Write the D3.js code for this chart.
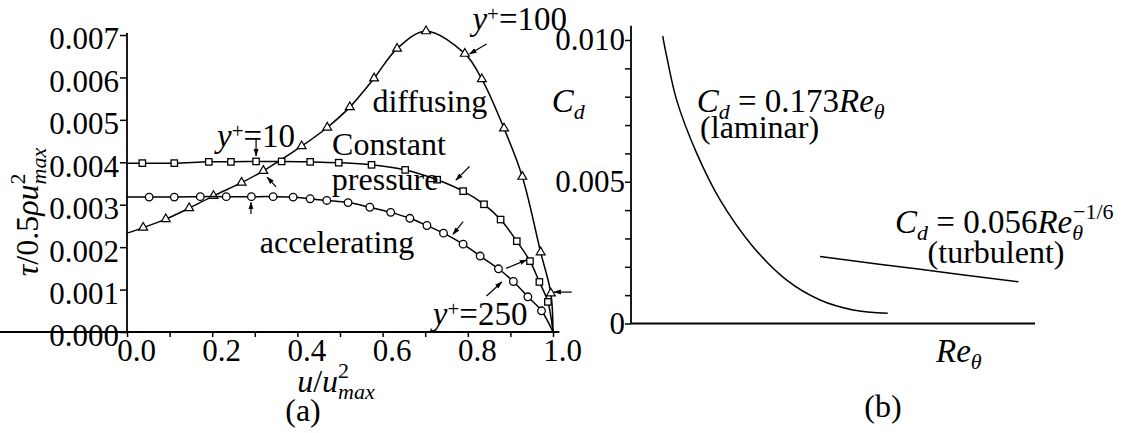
<!DOCTYPE html>
<html>
<head>
<meta charset="utf-8">
<script src="https://cdn.jsdelivr.net/npm/d3@7"></script>
</head>
<body style="margin:0;background:#fff">
<div id="vis-holder"></div>
<script>
// Panel (a): wall shear stress vs u/u_max -----------------------------
// first and last entries are the line ends (no marker)
const constU   = [0, 0.036, 0.111, 0.192, 0.244, 0.303, 0.363, 0.430, 0.497, 0.574, 0.653, 0.728, 0.789, 0.838, 0.877, 0.915, 0.946, 0.968, 0.988, 1.0];
const constTau = [0.00398, 0.00398, 0.00398, 0.00401, 0.00401, 0.00402, 0.00402, 0.00401, 0.00399, 0.00394, 0.00382, 0.00359, 0.00332, 0.00301, 0.00265, 0.00214, 0.00167, 0.00118, 0.00071, 0];

const accU   = [0, 0.052, 0.111, 0.172, 0.233, 0.292, 0.343, 0.390, 0.430, 0.469, 0.519, 0.570, 0.619, 0.664, 0.704, 0.743, 0.789, 0.829, 0.872, 0.907, 0.941, 0.973, 1.0];
const accTau = [0.00318, 0.00318, 0.00318, 0.00319, 0.00319, 0.00319, 0.00319, 0.00318, 0.00314, 0.00310, 0.00305, 0.00294, 0.00282, 0.00268, 0.00251, 0.00233, 0.00207, 0.00179, 0.00149, 0.00119, 0.00083, 0.00050, 0];

const diffU   = [0, 0.038, 0.091, 0.146, 0.203, 0.269, 0.320, 0.410, 0.470, 0.523, 0.580, 0.634, 0.702, 0.793, 0.833, 0.885, 0.928, 0.971, 0.995, 1.0];
const diffTau = [0.00233, 0.00246, 0.00266, 0.00292, 0.00321, 0.00352, 0.00380, 0.00438, 0.00482, 0.00530, 0.00598, 0.00668, 0.00709, 0.00656, 0.00596, 0.00480, 0.00366, 0.00188, 0.00091, 0];

const yTicksA = [0, 0.001, 0.002, 0.003, 0.004, 0.005, 0.006, 0.007];
const xTicksA = [0, 0.1, 0.2, 0.3, 0.4, 0.5, 0.6, 0.7, 0.8, 0.9, 1.0];
const xLabelsA = ["0.0", "", "0.2", "", "0.4", "", "0.6", "", "0.8", "", "1.0"];

// y+ arrows, in data units [u0, tau0, u1, tau1]
const arrowsA = [
  [0.303, 0.00457, 0.303, 0.00415],
  [0.350, 0.00342, 0.329, 0.00365],
  [0.291, 0.00278, 0.291, 0.00306],
  [0.844, 0.00679, 0.804, 0.00655],
  [0.804, 0.00390, 0.772, 0.00358],
  [0.789, 0.00260, 0.765, 0.00230],
  [0.890, 0.00150, 0.938, 0.00170],
  [0.844, 0.00085, 0.880, 0.00118],
  [1.044, 0.00094, 1.002, 0.00094]
];

// Panel (b): drag coefficient vs Re_theta ----------------------------
const lamRe  = [157, 177, 226, 325, 441, 604, 771, 936, 1100, 1271];
const lamCd  = [0.01014, 0.00941, 0.00788, 0.00601, 0.00436, 0.00271, 0.00153, 0.00083, 0.00048, 0.00036];
const turbRe = [936, 1431, 1918];
const turbCd = [0.00236, 0.00191, 0.00147];
const yTicksB = [0, 0.001, 0.002, 0.003, 0.004, 0.005, 0.006, 0.007, 0.008, 0.009, 0.010];
const yLabelsB = {0: "0", 0.005: "0.005", 0.01: "0.010"};

const FONT = '"Liberation Serif"';
const W = 1142, H = 433;
const svg = d3.select("#vis-holder").append("svg")
    .attr("width", W).attr("height", H)
    .style("font-family", FONT);

svg.append("defs").append("marker")
    .attr("id", "head")
    .attr("markerUnits", "userSpaceOnUse")
    .attr("markerWidth", 8).attr("markerHeight", 6)
    .attr("refX", 7).attr("refY", 3)
    .attr("orient", "auto")
  .append("path")
    .attr("d", "M0,0.5 L7.5,3 L0,5.5 Z")
    .attr("fill", "#000");

// rich text helper (italic / sub / sup pieces as tspans)
function rich(sel, x, y, segs, size, anchor, rotate) {
  const t = sel.append("text")
      .attr("x", x).attr("y", y)
      .attr("fill", "#000")
      .attr("text-anchor", anchor || "start")
      .style("font-family", FONT)
      .style("font-size", size + "px");
  if (rotate) t.attr("transform", `rotate(-90,${x},${y})`);
  segs.forEach((s) => {
    const ts = t.append("tspan").text(s.t).style("font-family", FONT);
    if (s.it) ts.style("font-style", "italic");
    if (s.fs) ts.style("font-size", s.fs + "px");
    if (s.dx) ts.attr("dx", s.dx);
    if (s.dy) ts.attr("dy", s.dy);
  });
  return t;
}

// ---------------- panel (a)
const xA = d3.scaleLinear().domain([0, 1]).range([127, 553]);
const yA = d3.scaleLinear().domain([0, 0.007]).range([332, 35]);

const gA = svg.append("g");

// y axis
gA.append("g")
    .attr("transform", `translate(${xA(0)},0)`)
    .call(d3.axisLeft(yA).tickValues(yTicksA).tickFormat(d3.format(".3f")).tickSize(7).tickSizeOuter(0).tickPadding(1))
    .attr("font-family", null).attr("font-size", null)
    .call((g) => g.select(".domain").attr("d", `M0,${yA(0)}V${yA(0.00705)}`))
    .call((g) => g.selectAll("line").attr("stroke-width", 1.5))
    .call((g) => g.selectAll("text").attr("dy", "0.45em")
        .style("font-family", FONT).style("font-size", "31px"));

// x axis
gA.append("g")
    .attr("transform", `translate(0,${yA(0)})`)
    .call(d3.axisBottom(xA).tickValues(xTicksA).tickFormat((d, i) => xLabelsA[i]).tickSize(5).tickSizeOuter(0).tickPadding(2))
    .attr("font-family", null).attr("font-size", null)
    .call((g) => g.select(".domain").attr("d", `M0,0H${xA(1.015)}`))
    .call((g) => g.selectAll("line").attr("stroke-width", 1.5))
    .call((g) => g.selectAll("text").attr("dx", 9)
        .style("font-family", FONT).style("font-size", "31px"));
gA.selectAll(".domain").attr("stroke-width", 1.8);

const lineA = d3.line().x((d) => xA(d[0])).y((d) => yA(d[1])).curve(d3.curveCatmullRom.alpha(0.5));

const seriesA = [
  { u: diffU, tau: diffTau, shape: "tri" },
  { u: constU, tau: constTau, shape: "sq" },
  { u: accU, tau: accTau, shape: "circ" }
];

seriesA.forEach((s) => {
  const pts = s.u.map((u, i) => [u, s.tau[i]]);
  gA.append("path")
      .datum(pts)
      .attr("d", lineA)
      .attr("fill", "none")
      .attr("stroke", "#000")
      .attr("stroke-width", 1.5);

  const mk = gA.selectAll(null)
      .data(pts.slice(1, -1))
      .enter();
  if (s.shape === "sq") {
    mk.append("rect")
        .attr("x", (d) => xA(d[0]) - 3.2).attr("y", (d) => yA(d[1]) - 3.2)
        .attr("width", 6.4).attr("height", 6.4)
        .attr("fill", "#fff").attr("stroke", "#000").attr("stroke-width", 1.3);
  } else if (s.shape === "circ") {
    mk.append("circle")
        .attr("cx", (d) => xA(d[0])).attr("cy", (d) => yA(d[1]))
        .attr("r", 3.8)
        .attr("fill", "#fff").attr("stroke", "#000").attr("stroke-width", 1.3);
  } else {
    mk.append("path")
        .attr("transform", (d) => `translate(${xA(d[0])},${yA(d[1])})`)
        .attr("d", d3.symbol(d3.symbolTriangle, 34))
        .attr("fill", "#fff").attr("stroke", "#000").attr("stroke-width", 1.2);
  }
});

gA.selectAll(".arrow")
    .data(arrowsA)
    .enter()
    .append("line")
    .attr("class", "arrow")
    .attr("x1", (d) => xA(d[0])).attr("y1", (d) => yA(d[1]))
    .attr("x2", (d) => xA(d[2])).attr("y2", (d) => yA(d[3]))
    .attr("stroke", "#000").attr("stroke-width", 1.2)
    .attr("marker-end", "url(#head)");

// labels panel (a)
const yPlus = (v) => [{ t: "y", it: true }, { t: "+", fs: 21, dy: -9 }, { t: "=" + v, dy: 9 }];
rich(gA, xA(0.303), yA(0.00437), yPlus("10"), 33, "middle");
rich(gA, xA(0.922), yA(0.00712), yPlus("100"), 33, "middle");
rich(gA, xA(0.829), yA(0.00017), yPlus("250"), 33, "middle");
rich(gA, xA(0.711), yA(0.00519), [{ t: "diffusing" }], 32, "middle");
rich(gA, xA(0.615), yA(0.00417), [{ t: "Constant" }], 32, "middle");
rich(gA, xA(0.606), yA(0.00335), [{ t: "pressure" }], 32, "middle");
rich(gA, xA(0.493), yA(0.00186), [{ t: "accelerating" }], 32, "middle");

rich(svg, 38, 212, [
  { t: "τ", it: true }, { t: "/0.5" }, { t: "ρu", it: true },
  { t: "2", fs: 22, dy: -13 }, { t: "max", it: true, fs: 22, dx: -11, dy: 21 }
], 32, "middle", true);

rich(svg, 336, 392, [
  { t: "u", it: true }, { t: "/" }, { t: "u", it: true },
  { t: "2", fs: 22, dy: -14 }, { t: "max", it: true, fs: 22, dx: -11, dy: 21 }
], 32, "middle");

rich(svg, 303, 421, [{ t: "(a)" }], 32, "middle");

// ---------------- panel (b)
const xB = d3.scaleLinear().domain([0, 2000]).range([631, 1035]);
const yB = d3.scaleLinear().domain([0, 0.01]).range([323.5, 40]);

const gB = svg.append("g");

gB.append("g")
    .attr("transform", `translate(${xB(0)},0)`)
    .call(d3.axisLeft(yB).tickValues(yTicksB).tickFormat((d) => yLabelsB[d] || "").tickSize(6).tickSizeOuter(0).tickPadding(0))
    .attr("font-family", null).attr("font-size", null)
    .call((g) => g.select(".domain").attr("d", `M0,${yB(0)}V${yB(0.0105)}`).attr("stroke-width", 1.8))
    .call((g) => g.selectAll("line").attr("stroke-width", 1.5))
    .call((g) => g.selectAll("text").attr("dy", "0.32em")
        .style("font-family", FONT).style("font-size", "31px"));

gB.append("line")
    .attr("x1", xB(0)).attr("y1", yB(0))
    .attr("x2", xB(2000)).attr("y2", yB(0))
    .attr("stroke", "#000").attr("stroke-width", 1.8);

const lineB = d3.line().x((d) => xB(d[0])).y((d) => yB(d[1])).curve(d3.curveCatmullRom.alpha(0.5));

gB.append("path")
    .datum(lamRe.map((r, i) => [r, lamCd[i]]))
    .attr("d", lineB)
    .attr("fill", "none").attr("stroke", "#000").attr("stroke-width", 1.5);

gB.append("path")
    .datum(turbRe.map((r, i) => [r, turbCd[i]]))
    .attr("d", lineB)
    .attr("fill", "none").attr("stroke", "#000").attr("stroke-width", 1.5);

rich(gB, xB(-392), yB(0.00747), [{ t: "C", it: true }, { t: "d", it: true, fs: 22, dy: 7 }], 33, "start");
rich(gB, xB(325), yB(0.00747), [
  { t: "C", it: true }, { t: "d", it: true, fs: 22, dy: 7 }, { t: "\u00a0=\u00a00.173", dy: -7 },
  { t: "Re", it: true }, { t: "θ", it: true, fs: 22, dy: 7 }
], 33, "start");
rich(gB, xB(342), yB(0.00654), [{ t: "(laminar)" }], 32, "start");
rich(gB, xB(1307), yB(0.00319), [
  { t: "C", it: true }, { t: "d", it: true, fs: 22, dy: 7 }, { t: "\u00a0=\u00a00.056", dy: -7 },
  { t: "Re", it: true }, { t: "θ", it: true, fs: 22, dy: 7 }, { t: "−1/6", fs: 22, dx: -10, dy: -21 }
], 33, "start");
rich(gB, xB(1807), yB(0.00213), [{ t: "(turbulent)" }], 32, "middle");
rich(gB, xB(1510), yB(-0.00135), [{ t: "Re", it: true }, { t: "θ", it: true, fs: 22, dy: 7 }], 33, "start");
rich(svg, 883, 417, [{ t: "(b)" }], 32, "middle");
</script>
</body>
</html>
